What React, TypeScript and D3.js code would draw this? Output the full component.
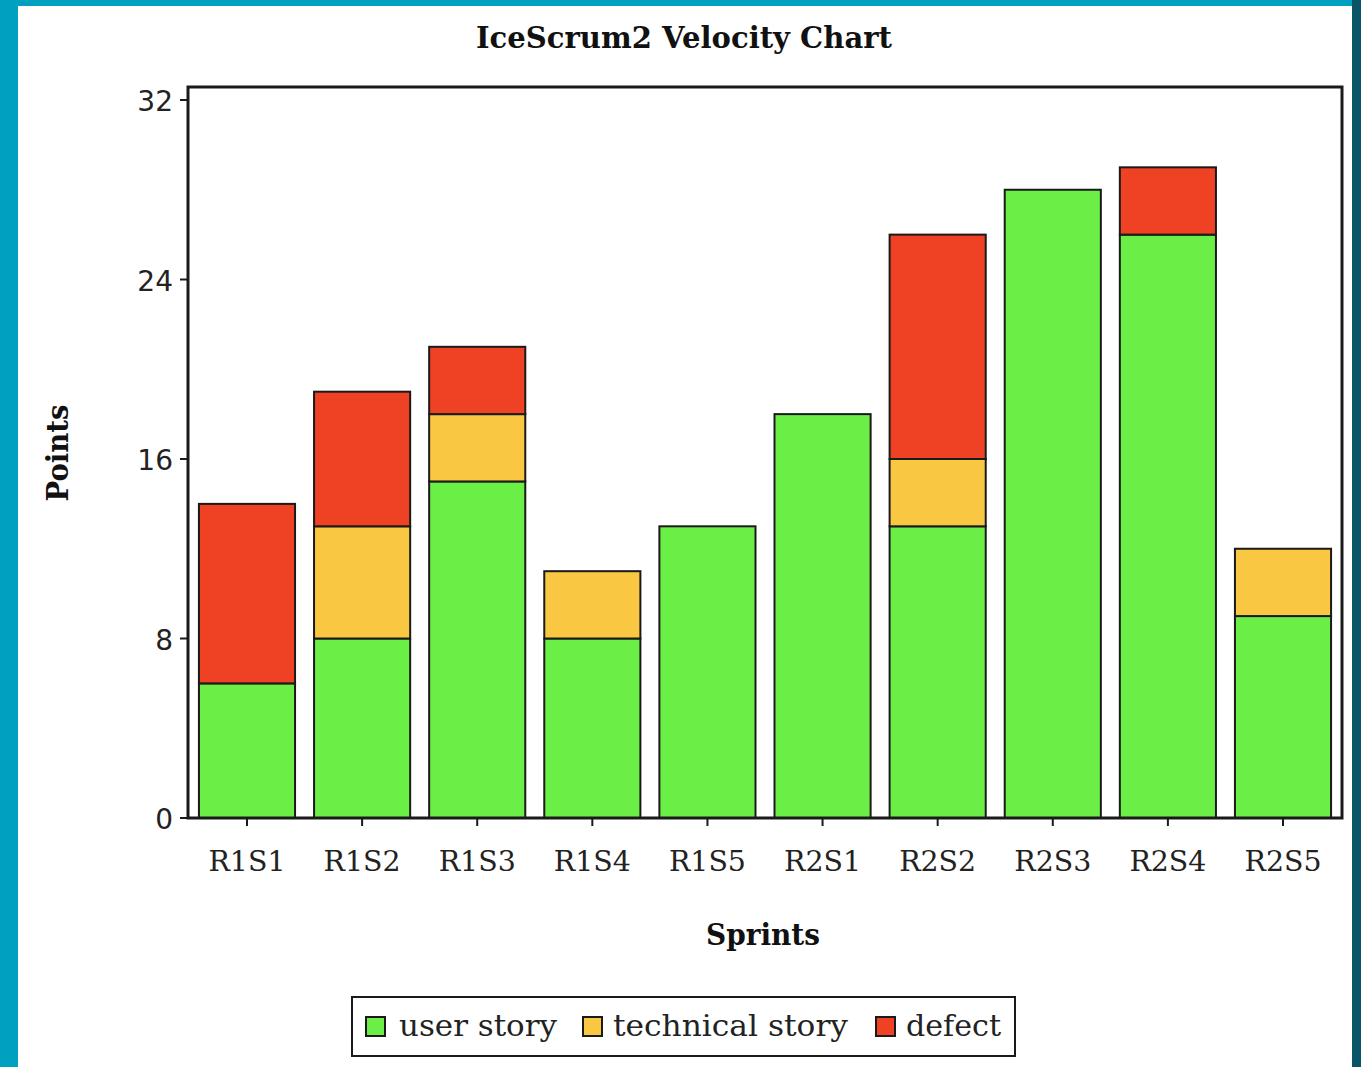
import React, { useEffect, useRef } from "react";
import * as d3 from "d3";

const sprints = ["R1S1", "R1S2", "R1S3", "R1S4", "R1S5", "R2S1", "R2S2", "R2S3", "R2S4", "R2S5"];
const userStory = [6, 8, 15, 8, 13, 18, 13, 28, 26, 9];
const technicalStory = [0, 5, 3, 3, 0, 0, 3, 0, 0, 3];
const defect = [8, 6, 3, 0, 0, 0, 10, 0, 3, 0];
const seriesNames = ["user story", "technical story", "defect"];
const seriesKeys = ["user", "tech", "defect"];
const seriesColors = ["#6bef46", "#f9c742", "#ef4123"];
const yTicks = [0, 8, 16, 24, 32];

const W = 1361;
const H = 1067;

export default function App() {
  const ref = useRef<SVGSVGElement>(null);

  useEffect(() => {
    const svg = d3.select(ref.current);
    svg.selectAll("*").remove();

    // background & border
    svg.append("rect").attr("x", 0).attr("y", 0).attr("width", W).attr("height", H).attr("fill", "#00a0c0");
    svg.append("rect").attr("x", 1352).attr("y", 0).attr("width", 9).attr("height", H).attr("fill", "#0a5468");
    svg.append("rect").attr("x", 18).attr("y", 6).attr("width", 1334).attr("height", H - 6).attr("fill", "#ffffff");

    const left = 188, right = 1342, top = 87, bottom = 818;

    const x = d3.scaleBand<string>().domain(sprints).range([left, right]).paddingInner(0.165).paddingOuter(0.095);
    const y = d3.scaleLinear().domain([0, 32]).range([bottom, 100]);

    const rows = sprints.map((s, i) => ({ sprint: s, user: userStory[i], tech: technicalStory[i], defect: defect[i] }));
    const stacked = d3.stack<any>().keys(seriesKeys)(rows);

    // title
    svg.append("text").attr("x", 684).attr("y", 48).attr("text-anchor", "middle")
      .attr("font-family", "DejaVu Serif").attr("font-weight", "bold").attr("font-size", 30)
      .attr("textLength", 416).attr("lengthAdjust", "spacingAndGlyphs").attr("fill", "#111")
      .text("IceScrum2 Velocity Chart");

    // bars
    stacked.forEach((layer, li) => {
      svg.append("g").selectAll("rect").data(layer).join("rect")
        .filter((d: any) => d[1] - d[0] > 0)
        .attr("x", (d: any) => x(d.data.sprint)!)
        .attr("width", x.bandwidth())
        .attr("y", (d: any) => y(d[1]))
        .attr("height", (d: any) => y(d[0]) - y(d[1]))
        .attr("fill", seriesColors[li])
        .attr("stroke", "#1a1a1a")
        .attr("stroke-width", 2);
    });

    // frame
    svg.append("rect").attr("x", left).attr("y", top).attr("width", right - left).attr("height", bottom - top)
      .attr("fill", "none").attr("stroke", "#1a1a1a").attr("stroke-width", 3);

    // y axis ticks
    const yg = svg.append("g");
    yTicks.forEach((t) => {
      yg.append("line").attr("x1", 180).attr("x2", left).attr("y1", y(t)).attr("y2", y(t))
        .attr("stroke", "#1a1a1a").attr("stroke-width", 2);
      yg.append("text").attr("x", 173).attr("y", y(t) + 11).attr("text-anchor", "end")
        .attr("font-family", "DejaVu Sans").attr("font-size", 28).attr("fill", "#222").text(String(t));
    });

    // x axis ticks
    const xg = svg.append("g");
    sprints.forEach((s) => {
      const cx = x(s)! + x.bandwidth() / 2;
      xg.append("line").attr("x1", cx).attr("x2", cx).attr("y1", bottom).attr("y2", bottom + 8)
        .attr("stroke", "#1a1a1a").attr("stroke-width", 2);
      xg.append("text").attr("x", cx).attr("y", 871).attr("text-anchor", "middle")
        .attr("font-family", "DejaVu Serif").attr("font-size", 28).attr("fill", "#222")
        .attr("textLength", 77).attr("lengthAdjust", "spacingAndGlyphs").text(s);
    });

    // axis titles
    svg.append("text").attr("x", 763).attr("y", 945).attr("text-anchor", "middle")
      .attr("font-family", "DejaVu Serif").attr("font-weight", "bold").attr("font-size", 30)
      .attr("textLength", 114).attr("lengthAdjust", "spacingAndGlyphs").attr("fill", "#111").text("Sprints");
    svg.append("text").attr("transform", "translate(68,453) rotate(-90)").attr("text-anchor", "middle")
      .attr("font-family", "DejaVu Serif").attr("font-weight", "bold").attr("font-size", 30)
      .attr("textLength", 97).attr("lengthAdjust", "spacingAndGlyphs").attr("fill", "#111").text("Points");

    // legend
    const lg = svg.append("g");
    lg.append("rect").attr("x", 352).attr("y", 997).attr("width", 663).attr("height", 59)
      .attr("fill", "#fff").attr("stroke", "#1a1a1a").attr("stroke-width", 2);
    const swX = [366, 583, 876];
    const txX = [399, 613, 906];
    const txW = [158, 235, 95];
    seriesNames.forEach((n, i) => {
      lg.append("rect").attr("x", swX[i]).attr("y", 1017).attr("width", 19).attr("height", 19)
        .attr("fill", seriesColors[i]).attr("stroke", "#1a1a1a").attr("stroke-width", 2);
      lg.append("text").attr("x", txX[i]).attr("y", 1036)
        .attr("font-family", "DejaVu Serif").attr("font-size", 30).attr("fill", "#222")
        .attr("textLength", txW[i]).attr("lengthAdjust", "spacingAndGlyphs").text(n);
    });
  }, []);

  return (
    <div style={{ position: "absolute", left: 0, top: 0 }}>
      <svg ref={ref} width={W} height={H} style={{ display: "block" }} />
    </div>
  );
}
